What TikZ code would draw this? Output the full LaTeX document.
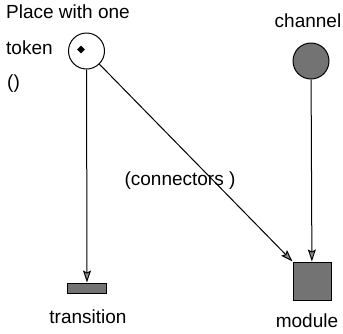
\documentclass[tikz,border=0pt]{standalone}
\usepackage{fontspec}
\setmainfont{Liberation Sans}
\usetikzlibrary{arrows.meta,shapes.geometric}

\begin{document}
\begin{tikzpicture}[x=1pt,y=-1pt,
	   lbl/.style={font=\fontsize{19}{21}\selectfont, inner sep=0pt},
	   arc/.style={line width=1.0, -{Stealth[length=12pt,width=8pt,inset=2pt,fill=black!45]}},
	   box/.style={draw, line width=1.0, fill=black!55, inner sep=0pt}]
	   \useasboundingbox (0,0) rectangle (343,333);
	   \node[draw, circle, line width=1.0, minimum size=36pt, inner sep=0pt] (place) at (86.5,51) {};
	   \node[diamond, fill=black, minimum size=8pt, inner sep=0pt, shape aspect=1] (token) at (81,49.5) {};
	   \node[box, circle, minimum size=36pt] (channel) at (311,61) {};
	   \node[box, minimum width=39pt, minimum height=10pt] (trans) at (87,288) {};
	   \node[box, minimum size=38pt] (module) at (312,281) {};
	   \draw[arc] (place) -- (trans);
	   \draw[arc] (place) -- (module.north west);
	   \draw[arc] (channel) -- (module);
	   \node[lbl, anchor=base west] (ttl1) at (6,18) {Place with one};
	   \node[lbl, anchor=base west] (ttl2) at (6,54) {token};
	   \node[lbl, anchor=base west] (ttl3) at (7,88) {()};
	   \node[lbl, anchor=base] (chlbl) at (308,27) {channel};
	   \node[lbl, anchor=base] (trlbl) at (88,323) {transition};
	   \node[lbl, anchor=base] (mdlbl) at (307,327) {module};
	   \node[lbl, anchor=base] (cnlbl) at (180,185) {(connectors )};
\end{tikzpicture}
\end{document}
